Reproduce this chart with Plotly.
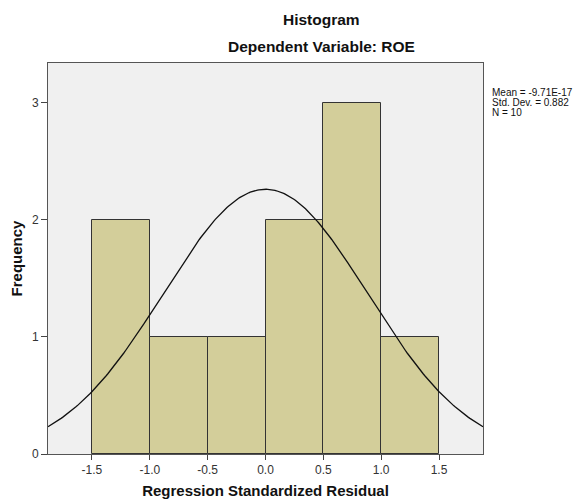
import numpy as np
import plotly.graph_objects as go

bin_left = [-1.5, -1.0, -0.5, 0.0, 0.5, 1.0]
bin_width = 0.5
counts = [2, 1, 1, 2, 3, 1]
mean = -9.71e-17
std = 0.882
n = 10
x_ticks = [-1.5, -1.0, -0.5, 0.0, 0.5, 1.0, 1.5]
x_tick_labels = ["-1.5", "-1.0", "-0.5", "0.0", "0.5", "1.0", "1.5"]
y_ticks = [0, 1, 2, 3]
stats_lines = ["Mean = -9.71E-17", "Std. Dev. = 0.882", "N = 10"]

centers = [b + bin_width / 2 for b in bin_left]
xr = [-1.88, 1.88]
xs = np.linspace(xr[0], xr[1], 300)
ys = n * bin_width * np.exp(-0.5 * ((xs - mean) / std) ** 2) / (std * np.sqrt(2 * np.pi))

fig = go.Figure()
fig.add_trace(go.Bar(x=centers, y=counts, width=bin_width,
                     marker=dict(color="#D3CE9A", line=dict(color="#333333", width=1)),
                     hoverinfo="skip"))
fig.add_trace(go.Scatter(x=xs, y=ys, mode="lines", line=dict(color="#111111", width=1.3),
                         hoverinfo="skip"))

font = "Liberation Sans, Arial, sans-serif"
annotations = [
    dict(text="<b>Histogram</b>", x=0.5, y=1.0, xref="paper", yref="paper", showarrow=False,
         xanchor="center", yanchor="middle", xshift=55.5, yshift=43.5,
         font=dict(size=15.5, color="#111111")),
    dict(text="<b>Dependent Variable: ROE</b>", x=0.5, y=1.0, xref="paper", yref="paper",
         showarrow=False, xanchor="center", yanchor="middle", xshift=55.5, yshift=16.5,
         font=dict(size=15.5, color="#111111")),
]
for i, line in enumerate(stats_lines):
    annotations.append(dict(text=line, xref="paper", yref="paper", x=1.0, y=1.0,
                            xanchor="left", yanchor="middle", xshift=8, yshift=-29 - 10 * i,
                            showarrow=False, align="left", borderpad=0,
                            font=dict(size=10, color="#111111")))

fig.update_layout(
    width=578, height=500,
    margin=dict(l=48, r=95, t=63, b=46),
    paper_bgcolor="white", plot_bgcolor="#F0F0F0",
    showlegend=False, bargap=0,
    font=dict(family=font, color="#333333", size=12),
    annotations=annotations,
)

fig.update_xaxes(range=xr, tickvals=x_ticks, ticktext=x_tick_labels,
                 ticks="outside", ticklen=5, tickcolor="#444444",
                 showline=True, linecolor="#555555", linewidth=1, mirror=True,
                 showgrid=False, zeroline=False, automargin=False,
                 title=dict(text="<b>Regression Standardized Residual</b>", standoff=9,
                            font=dict(size=15, color="#111111")))
fig.update_yaxes(range=[0, 3.34], tickvals=y_ticks,
                 ticks="outside", ticklen=6, tickcolor="#444444",
                 showline=True, linecolor="#555555", linewidth=1, mirror=True,
                 showgrid=False, zeroline=False, automargin=False,
                 title=dict(text="<b>Frequency</b>", standoff=5,
                            font=dict(size=15, color="#111111")))

fig.write_html("out.html", config={"displayModeBar": False},
               post_script="document.body.style.margin='0';")
